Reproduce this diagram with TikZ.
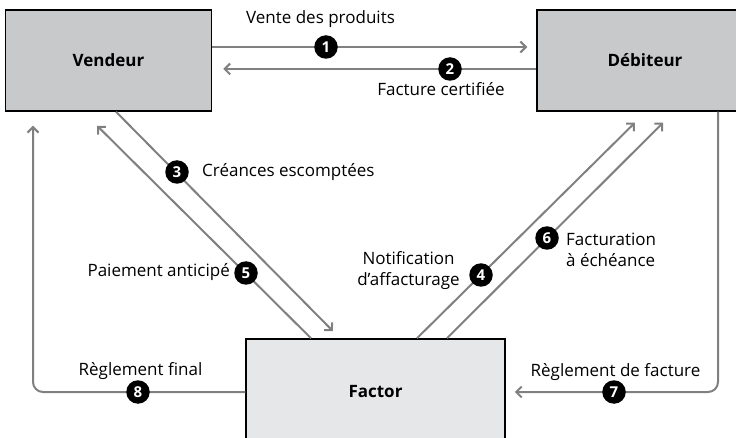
\documentclass[tikz,border=0pt]{standalone}
\usepackage{fontspec}
\setmainfont{Open Sans}
\usetikzlibrary{arrows.meta}
\definecolor{boxdark}{RGB}{200,201,203}
\definecolor{boxlight}{RGB}{230,231,232}
\definecolor{flowgray}{RGB}{128,128,128}
\begin{document}
\begin{tikzpicture}[x=1pt,y=-1pt,
  party/.style={draw=black,line width=1.5pt,font=\fontsize{17}{19}\selectfont\bfseries,inner sep=0pt},
  flow/.style={draw=flowgray,line width=2pt,-{Straight Barb[length=5.5pt,width=11pt]}},
  num/.style={circle,fill=black,text=white,minimum size=23.5pt,inner sep=0pt,font=\fontsize{15}{15}\selectfont\bfseries},
  lbl/.style={font=\fontsize{17}{21}\selectfont,inner sep=0pt}]
\useasboundingbox (0,0) rectangle (736,438);
\clip (0,0) rectangle (736,438);
% boxes
\node[party,fill=boxdark,minimum width=206pt,minimum height=101pt] (vendeur) at (108.5,60.5) {Vendeur};
\node[party,fill=boxdark,minimum width=216pt,minimum height=101pt] (debiteur) at (645,60.5) {Débiteur};
\node[party,fill=boxlight,minimum width=259pt,minimum height=106pt] (factor) at (375.5,392) {Factor};
% coordinates on box edges
\coordinate (v1) at (vendeur.east|-0,47);
\coordinate (d1) at (debiteur.west|-0,47);
\coordinate (v2) at (vendeur.east|-0,69);
\coordinate (d2) at (debiteur.west|-0,69);
\coordinate (v3) at (vendeur.south-|116,0);
\coordinate (f3) at (factor.north-|340,0);
\coordinate (f5) at (factor.north-|311,0);
\coordinate (v5) at (vendeur.south-|83,0);
\coordinate (f4) at (factor.north-|417,0);
\coordinate (d4) at (debiteur.south-|646,0);
\coordinate (f6) at (factor.north-|447,0);
\coordinate (d6) at (debiteur.south-|674,0);
\coordinate (d7) at (debiteur.south-|718,0);
\coordinate (v8) at (vendeur.south-|33,0);
% connectors
\draw[flow,shorten >=9pt] (v1) -- (d1);
\draw[flow,shorten >=11pt] (d2) -- (v2);
\draw[flow,shorten >=10pt] (v3) -- (f3);
\draw[flow,shorten >=20pt] (f5) -- (v5);
\draw[flow,shorten >=15.5pt] (f4) -- (d4);
\draw[flow,shorten >=15.5pt] (f6) -- (d6);
\draw[flow,rounded corners=10pt,shorten >=9pt] (d7) |- (factor.east);
\draw[flow,rounded corners=10pt,shorten >=14pt] (factor.west) -| (v8);
% numbers
\node[num] (n1) at (326,47) {1};
\node[num] (n2) at (450,69) {2};
\node[num] (n3) at (177,172) {3};
\node[num] (n4) at (481,275) {4};
\node[num] (n5) at (246,273) {5};
\node[num] (n6) at (547,238) {6};
\node[num] (n7) at (614,392) {7};
\node[num] (n8) at (138,392) {8};
% labels
\node[lbl] (l1) at (320.5,19) {Vente des produits};
\node[lbl] (l2) at (441,89) {Facture certifiée};
\node[lbl,anchor=west] (l3) at (202,172) {Créances escomptées};
\node[lbl,align=center] (l4) at (408.5,271) {Notification\\d’affacturage};
\node[lbl,anchor=east] (l5) at (230,272) {Paiement anticipé};
\node[lbl,align=left,anchor=west] (l6) at (566,250) {Facturation\\à échéance};
\node[lbl] (l7) at (615.5,372) {Règlement de facture};
\node[lbl] (l8) at (140.5,371) {Règlement final};
\end{tikzpicture}
\end{document}
